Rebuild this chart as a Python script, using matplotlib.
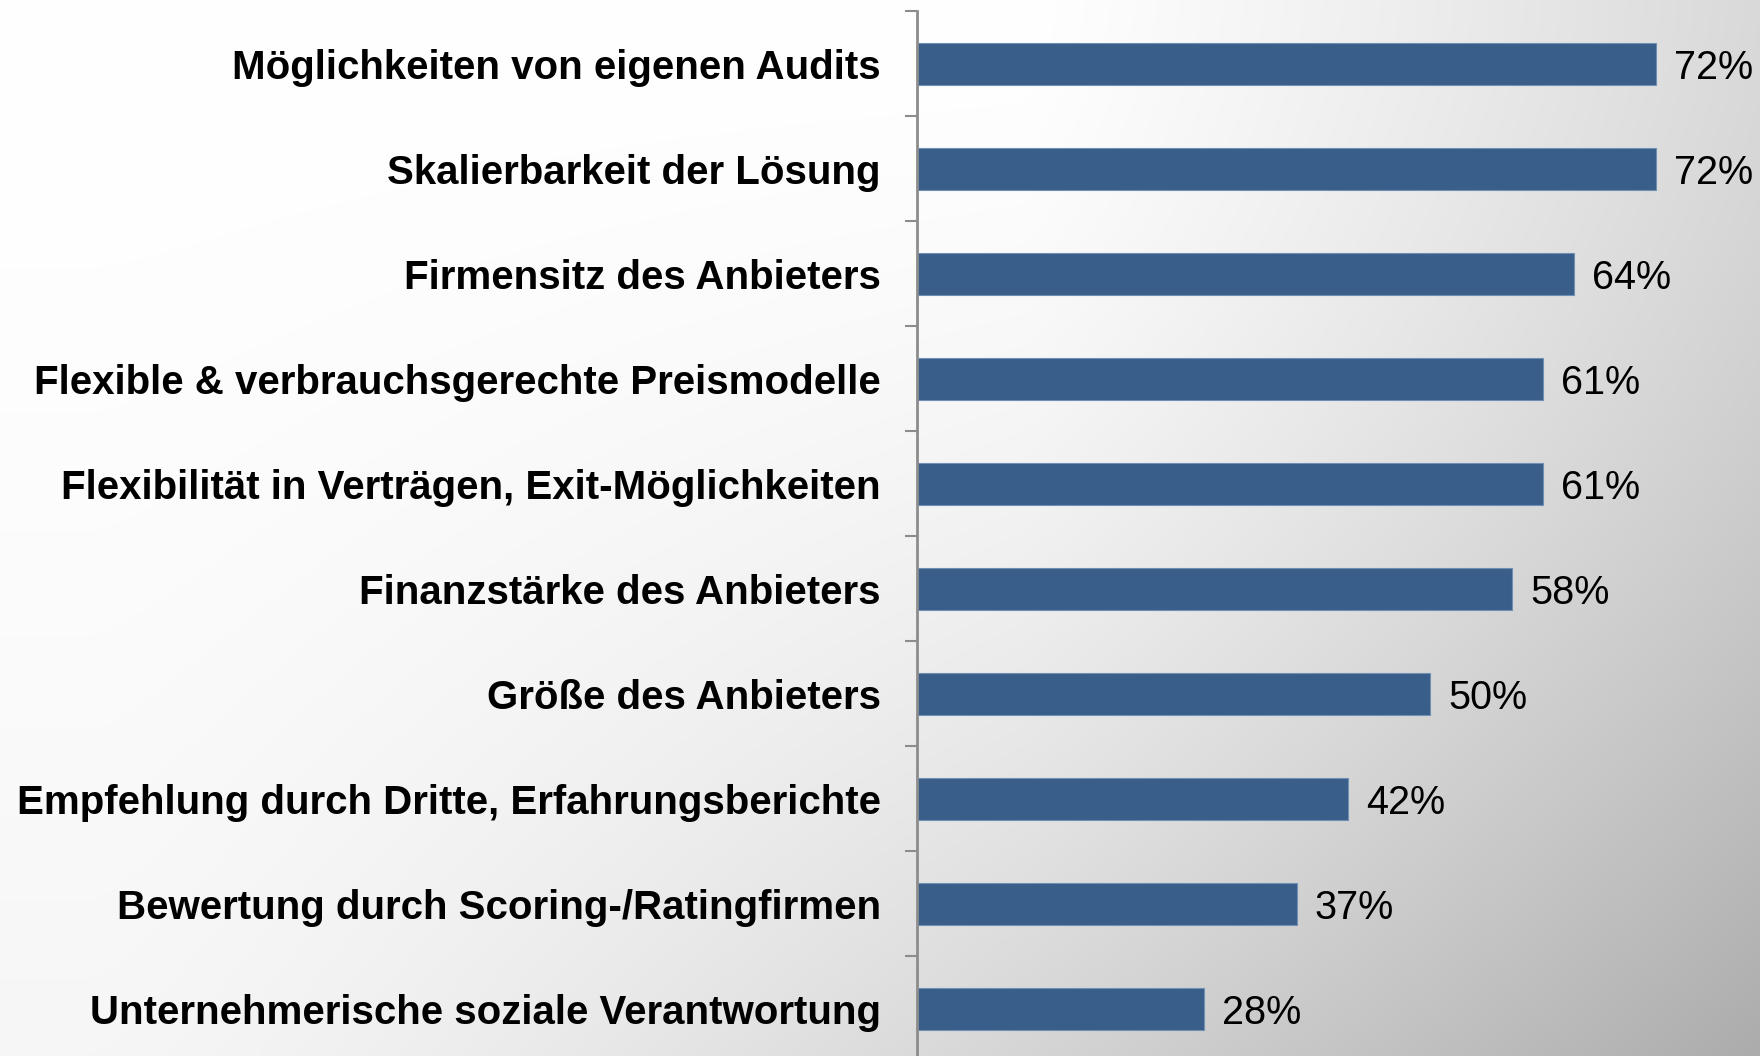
import numpy as np
import matplotlib
matplotlib.use("Agg")
import matplotlib.pyplot as plt
from matplotlib.ticker import FixedLocator

categories = [
    "Möglichkeiten von eigenen Audits",
    "Skalierbarkeit der Lösung",
    "Firmensitz des Anbieters",
    "Flexible & verbrauchsgerechte Preismodelle",
    "Flexibilität in Verträgen, Exit-Möglichkeiten",
    "Finanzstärke des Anbieters",
    "Größe des Anbieters",
    "Empfehlung durch Dritte, Erfahrungsberichte",
    "Bewertung durch Scoring-/Ratingfirmen",
    "Unternehmerische soziale Verantwortung",
]
values = [72, 72, 64, 61, 61, 58, 50, 42, 37, 28]
value_labels = ["72%", "72%", "64%", "61%", "61%", "58%", "50%", "42%", "37%", "28%"]

W, H, DPI = 1760, 1056, 100
fig = plt.figure(figsize=(W / DPI, H / DPI), dpi=DPI)

# background gradient
bg = fig.add_axes([0, 0, 1, 1], zorder=0)
u = np.linspace(0, 1, 400)[None, :]
w = np.linspace(0, 1, 240)[:, None]
top = 255 - 38 * np.clip((u - 0.58) / 0.42, 0, None) ** 1.2
bottom = 246 - 74 * np.clip((u - 0.05) / 0.95, 0, None) ** 1.4
ww = w ** 1.6
v = (1 - ww) * top + ww * bottom
bg.imshow(np.repeat((v / 255.0)[..., None], 3, axis=2), aspect="auto",
          extent=[0, 1, 0, 1], origin="upper", interpolation="bilinear")
bg.set_xlim(0, 1)
bg.set_ylim(0, 1)
bg.axis("off")

left_px = 917
px_per_unit = 10.26
xmax = (W - left_px) / px_per_unit
top_px, bot_px = 11.5, 1061.5
ax = fig.add_axes([left_px / W, 1 - bot_px / H, 1 - left_px / W, (bot_px - top_px) / H], zorder=1)
ax.patch.set_alpha(0)

y = np.arange(len(categories))
ax.barh(y, values, height=0.4, color="#3A5E8A", edgecolor="#6F8FB5", linewidth=0.8, zorder=2)
ax.set_xlim(0, xmax)
ax.set_ylim(len(categories) - 0.5, -0.5)

for yi, val, lab in zip(y, values, value_labels):
    ax.annotate(lab, (val, yi), xytext=(13, 0), textcoords="offset points",
                ha="left", va="center_baseline", fontsize=28.5,
                family=["Liberation Sans", "DejaVu Sans"], color="black")

for s in ["top", "right", "bottom"]:
    ax.spines[s].set_visible(False)
ax.spines["left"].set_color("#8C8C8C")
ax.spines["left"].set_linewidth(2)

ax.set_xticks([])
ax.yaxis.set_major_locator(FixedLocator(list(y)))
ax.set_yticklabels(categories, fontsize=29, fontweight="bold",
                   family=["Liberation Sans", "DejaVu Sans"])
ax.tick_params(axis="y", which="major", length=0, pad=26)
ax.yaxis.set_minor_locator(FixedLocator(list(np.arange(-0.5, len(categories), 1.0))))
ax.tick_params(axis="y", which="minor", length=9, width=1.5, color="#8C8C8C", direction="out")

fig.savefig("out.png", dpi=DPI)
